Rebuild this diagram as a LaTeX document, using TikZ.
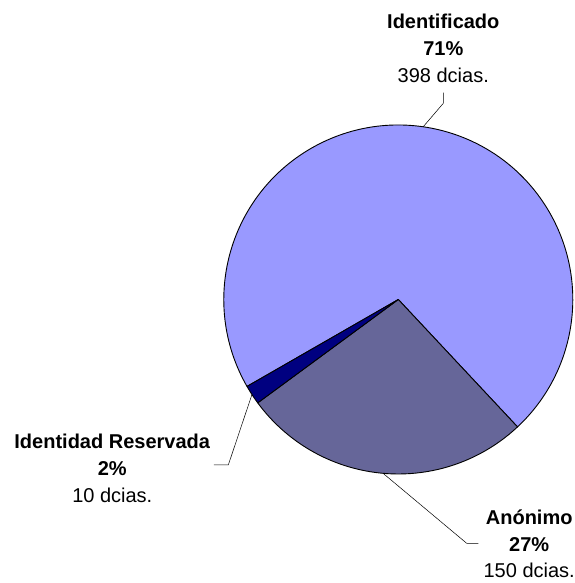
\documentclass[tikz,border=0pt]{standalone}
\usepackage{fontspec}
\setmainfont{Liberation Sans}
\usetikzlibrary{calc}

\definecolor{identColor}{HTML}{9999FF}
\definecolor{reservColor}{HTML}{000080}
\definecolor{anonColor}{HTML}{666699}

\begin{document}
\begin{tikzpicture}[x=1pt, y=1pt,
    slice/.style = {draw=black, line width=0.9pt, line join=round},
    leader/.style = {draw=black, line width=0.5pt},
    lbl/.style = {align=center, inner sep=0pt, font=\fontsize{20}{26.7}\selectfont}]

    \useasboundingbox (0,0) rectangle (574,583);
    \coordinate (ctr) at (398.3,283.5);

    \pgfmathsetmacro\rad{174.5}
    \pgfmathsetmacro\aEins{-46.9}
    \pgfmathsetmacro\aZwei{\aEins-150/558*360}
    \pgfmathsetmacro\aDrei{\aZwei-10/558*360}
    \pgfmathsetmacro\aVier{\aEins-360}

    \draw[slice, fill = identColor](ctr) -- ($(ctr)+(\aDrei:\rad pt)$) arc[start angle=\aDrei, end angle=\aVier, radius=\rad pt] -- cycle;
    \draw[slice, fill = anonColor](ctr) -- ($(ctr)+(\aEins:\rad pt)$) arc[start angle=\aEins, end angle=\aZwei, radius=\rad pt] -- cycle;
    \draw[slice, fill = reservColor](ctr) -- ($(ctr)+(\aZwei:\rad pt)$) arc[start angle=\aZwei, end angle=\aDrei, radius=\rad pt] -- cycle;

    \node[lbl] (lblIdent) at (443.3,534.7) {\textbf{Identificado}\\\textbf{71\%}\\398 dcias.};
    \node[lbl] (lblReserv) at (112.3,114.7) {\textbf{Identidad Reservada}\\\textbf{2\%}\\10 dcias.};
    \node[lbl] (lblAnon) at (529.2,39) {\textbf{Anónimo}\\\textbf{27\%}\\150 dcias.};

    \coordinate (pIdent) at ($(ctr)+(81.8:\rad pt)$);
    \coordinate (kIdent) at (443.3,479.7);
    \draw[leader](pIdent) -- (kIdent) -- ([yshift=-10pt]lblIdent.south);

    \coordinate (pReserv) at ($(ctr)+(213:\rad pt)$);
    \coordinate (kReserv) at (228.3,118);
    \draw[leader](pReserv) -- (kReserv) -- ([xshift=3.6pt]kReserv -| lblReserv.east);

    \coordinate (pAnon) at ($(ctr)+(265:\rad pt)$);
    \coordinate (kAnon) at (466.7,39.7);
    \draw[leader](pAnon) -- (kAnon) -- ([xshift=-5pt]kAnon -| lblAnon.west);
\end{tikzpicture}
\end{document}
